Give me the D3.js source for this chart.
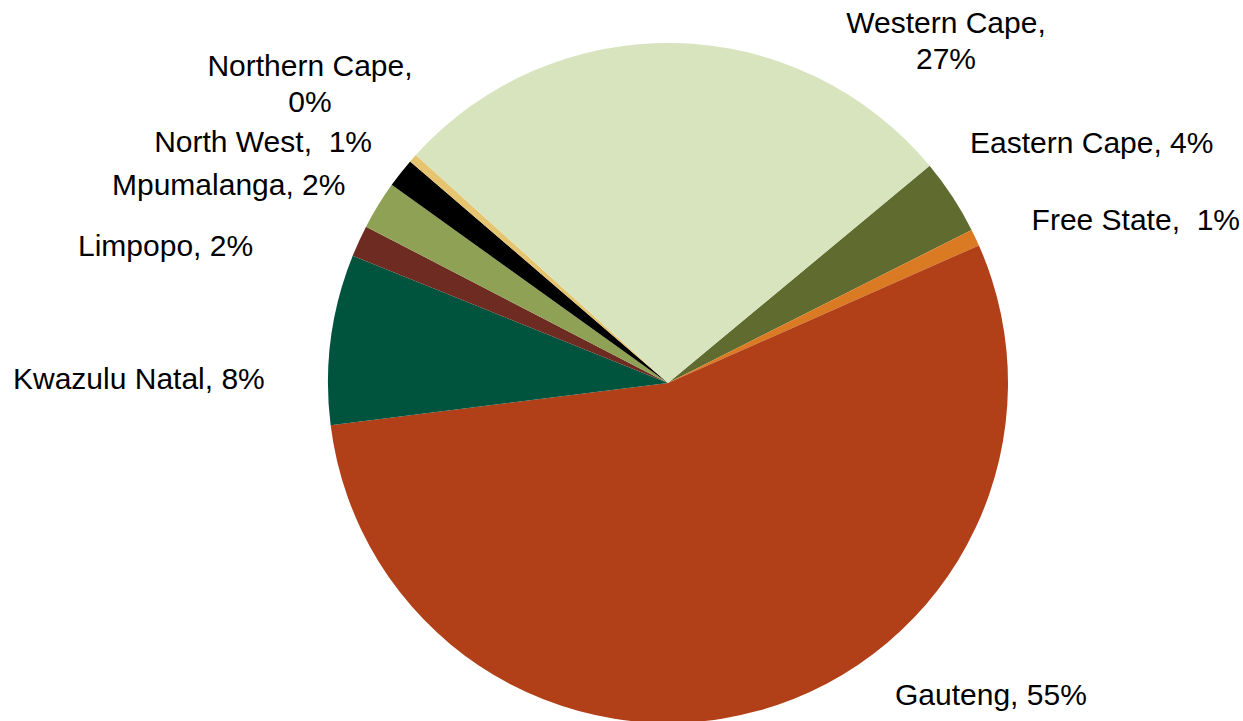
<!DOCTYPE html>
<html>
<head>
<meta charset="utf-8">
<script src="https://cdn.jsdelivr.net/npm/d3@7"></script>
<style>
  html, body { margin: 0; padding: 0; background: #ffffff; }
  svg { display: block; }
  text { font-family: "Liberation Sans", Arial, sans-serif; fill: #000; white-space: pre; }
</style>
</head>
<body>
<svg id="chart" width="1243" height="721"></svg>
<script>
// Share of total by province (%), in drawing order clockwise
const provinces = ["Eastern Cape", "Free State", "Gauteng", "Kwazulu Natal", "Limpopo",
                   "Mpumalanga", "North West", "Northern Cape", "Western Cape"];
const shares = [3.6, 0.8, 54.7, 8.1, 1.5, 2.3, 1.4, 0.4, 27.3];
const colours = ["#606B2F", "#DA7A22", "#B13F18", "#00533D", "#6E2B21",
                 "#8FA155", "#000000", "#E7C46F", "#D8E4BE"];
// Label text layout: separator between name and value, and line break
const labelSeparators = [" ", "  ", " ", " ", " ", " ", "  ", "\n", "\n"];

const width = 1243, height = 721;
const cx = 668, cy = 383, radius = 340;
const firstSliceAngle = 50.3 * Math.PI / 180;

const svg = d3.select("#chart");
const g = svg.append("g").attr("transform", `translate(${cx},${cy})`);

const data = provinces.map((name, i) => ({ name, value: shares[i], colour: colours[i], sep: labelSeparators[i] }));

const pie = d3.pie()
  .sort(null)
  .value(d => d.value)
  .startAngle(firstSliceAngle)
  .endAngle(firstSliceAngle + 2 * Math.PI);

const arc = d3.arc().innerRadius(0).outerRadius(radius);
const arcs = pie(data);

g.selectAll("path.slice")
  .data(arcs)
  .join("path")
  .attr("class", "slice")
  .attr("d", arc)
  .attr("fill", d => d.data.colour);

// Label placement (absolute page coordinates) keyed by province
const labelPos = {
  "Western Cape":  { x: 946, y: 33, anchor: "middle" },
  "Eastern Cape":  { x: 970, y: 153, anchor: "start" },
  "Free State":    { x: 1240, y: 230, anchor: "end" },
  "Gauteng":       { x: 895, y: 705, anchor: "start" },
  "Kwazulu Natal": { x: 13, y: 389, anchor: "start" },
  "Limpopo":       { x: 78, y: 256, anchor: "start" },
  "Mpumalanga":    { x: 112, y: 195, anchor: "start" },
  "North West":    { x: 372, y: 152, anchor: "end" },
  "Northern Cape": { x: 310, y: 76, anchor: "middle" }
};
const lineHeight = 36;

const labels = svg.append("g").attr("class", "labels");
arcs.forEach(a => {
  const d = a.data;
  const p = labelPos[d.name];
  const pct = Math.round(d.value) + "%";
  const lines = d.sep === "\n" ? [d.name + ",", pct] : [d.name + "," + d.sep + pct];
  const t = labels.append("text")
    .attr("x", p.x).attr("y", p.y)
    .attr("text-anchor", p.anchor)
    .attr("font-size", 30);
  lines.forEach((ln, i) => {
    t.append("tspan").attr("x", p.x).attr("y", p.y + i * lineHeight).text(ln);
  });
});
</script>
</body>
</html>
